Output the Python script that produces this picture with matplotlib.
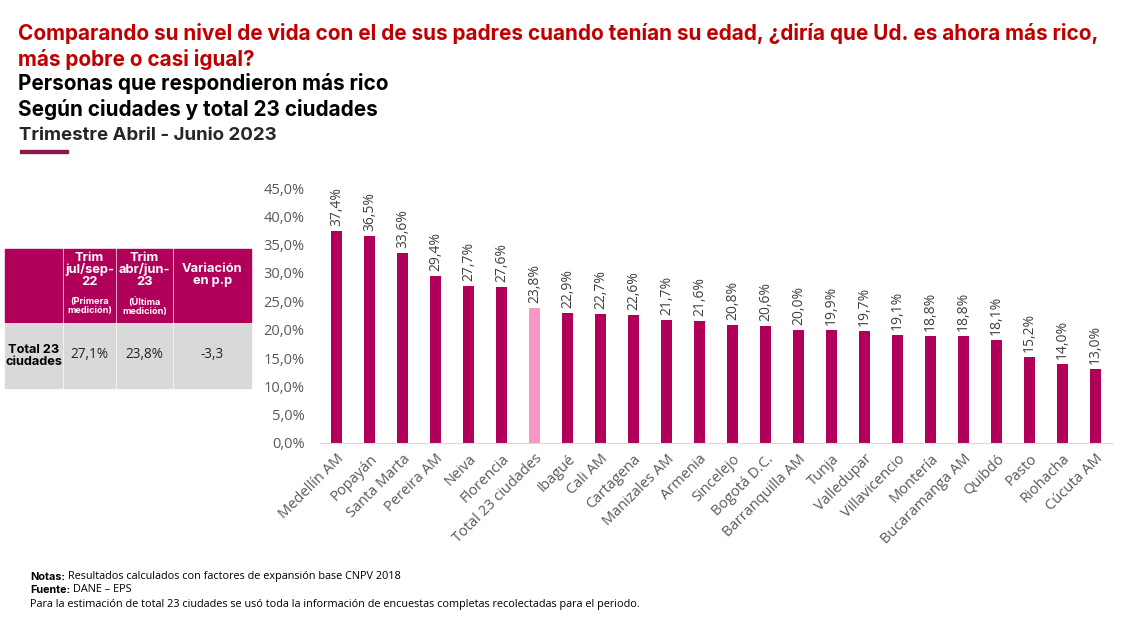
import matplotlib
matplotlib.use("Agg")
import matplotlib.pyplot as plt
from matplotlib.patches import Rectangle
from matplotlib.ticker import FuncFormatter

plt.rcParams['font.family'] = ['Open Sans', 'DejaVu Sans']

ciudades = ['Medellín AM', 'Popayán', 'Santa Marta', 'Pereira AM', 'Neiva', 'Florencia',
            'Total 23 ciudades', 'Ibagué', 'Cali AM', 'Cartagena', 'Manizales AM', 'Armenia',
            'Sincelejo', 'Bogotá D.C.', 'Barranquilla AM', 'Tunja', 'Valledupar',
            'Villavicencio', 'Montería', 'Bucaramanga AM', 'Quibdó', 'Pasto', 'Riohacha',
            'Cúcuta AM']
valores = [37.4, 36.5, 33.6, 29.4, 27.7, 27.6, 23.8, 22.9, 22.7, 22.6, 21.7, 21.6,
           20.8, 20.6, 20.0, 19.9, 19.7, 19.1, 18.8, 18.8, 18.1, 15.2, 14.0, 13.0]
yticks = [0, 5, 10, 15, 20, 25, 30, 35, 40, 45]

tabla_cols = ['', 'Trim\njul/sep-\n22', 'Trim\nabr/jun-\n23', 'Variación\nen p.p']
tabla_sub = ['', '(Primera\nmedición)', '(Última\nmedición)', '']
tabla_fila = ['Total 23\nciudades', '27,1%', '23,8%', '-3,3']

fmt = lambda v: f'{v:.1f}%'.replace('.', ',')

magenta = '#B0005A'
rosa = '#F799C4'
negrita = ['Inter', 'DejaVu Sans']

W, H = 1121, 621
fig = plt.figure(figsize=(W / 100, H / 100), dpi=100)
rend = fig.canvas.get_renderer()


def ajustar(t, ancho):
    # scale the font so the text spans the given pixel width
    w = t.get_window_extent(rend).width
    t.set_fontsize(t.get_fontsize() * ancho / w)
    return t.get_fontsize()


# titles
t1 = fig.text(18 / W, 1 - 40 / H, 'Comparando su nivel de vida con el de sus padres cuando tenían su edad, ¿diría que Ud. es ahora más rico,',
              color='#C00000', fontsize=13.5, fontweight='bold', family=negrita, va='baseline')
fs = ajustar(t1, 1083)
fig.text(18 / W, 1 - 66 / H, 'más pobre o casi igual?', color='#C00000', fontsize=fs,
         fontweight='bold', family=negrita, va='baseline')
fig.text(18 / W, 1 - 90 / H, 'Personas que respondieron más rico', color='black', fontsize=fs,
         fontweight='bold', family=negrita, va='baseline')
fig.text(18 / W, 1 - 116 / H, 'Según ciudades y total 23 ciudades', color='black', fontsize=fs,
         fontweight='bold', family=negrita, va='baseline')
t5 = fig.text(19 / W, 1 - 140 / H, 'Trimestre Abril - Junio 2023', color='#262626', fontsize=12,
              fontweight='bold', family=negrita, va='baseline')
ajustar(t5, 258)
fig.patches.append(Rectangle((20 / W, 1 - 153 / H), 48 / W, 3 / H, color='#8B1A4A',
                             transform=fig.transFigure, figure=fig))

# chart
ax = fig.add_axes([320 / W, 1 - 443 / H, 792 / W, 255 / H])
colores = [rosa if c.startswith('Total') else magenta for c in ciudades]
x = range(len(ciudades))
ax.bar(x, valores, width=0.34, color=colores)
for i, v in zip(x, valores):
    ax.text(i, v + 0.9, fmt(v), rotation=90, ha='center', va='bottom', fontsize=10,
            color='#404040', clip_on=False)
ax.set_xlim(-0.5, len(ciudades) - 0.5)
ax.set_ylim(0, 45)
ax.set_yticks(yticks)
ax.yaxis.set_major_formatter(FuncFormatter(lambda v, p: fmt(v)))
ax.set_xticks(list(x))
ax.set_xticklabels(ciudades, rotation=45, ha='right', rotation_mode='anchor', fontsize=10.5,
                   color='#595959')
ax.tick_params(axis='y', length=0, labelsize=10.5, labelcolor='#595959', pad=11)
ax.tick_params(axis='x', length=0, pad=6)
for s in ['top', 'right', 'left']:
    ax.spines[s].set_visible(False)
ax.spines['bottom'].set_color('#D9D9D9')

# table
bordes = [5, 64, 117, 174, 253]
top, mid, bot = 249, 322, 388
for j in range(4):
    x0, x1 = bordes[j], bordes[j + 1]
    fig.patches.append(Rectangle((x0 / W, 1 - mid / H), (x1 - x0 - 2) / W, (mid - top) / H,
                                 color=magenta, transform=fig.transFigure, figure=fig))
    fig.patches.append(Rectangle((x0 / W, 1 - bot / H), (x1 - x0 - 2) / W, (bot - mid - 2) / H,
                                 color='#D9D9D9', transform=fig.transFigure, figure=fig))
    cx = (x0 + x1 - 2) / 2 / W
    if tabla_cols[j]:
        if tabla_sub[j]:
            fig.text(cx, 1 - 252 / H, tabla_cols[j], ha='center', va='top', color='white',
                     fontsize=9.3, fontweight='bold', family=negrita, linespacing=0.95)
            fig.text(cx, 1 - 297 / H, tabla_sub[j], ha='center', va='top', color='white',
                     fontsize=6.6, fontweight='bold', family=negrita, linespacing=1.0)
        else:
            fig.text(cx, 1 - 263 / H, tabla_cols[j], ha='center', va='top', color='white',
                     fontsize=9.3, fontweight='bold', family=negrita, linespacing=0.95)
    if j == 0:
        fig.text(cx, 1 - 356 / H, tabla_fila[j], ha='center', va='center', color='black',
                 fontsize=9.2, fontweight='bold', family=negrita, linespacing=1.05)
    else:
        fig.text(cx, 1 - 355 / H, tabla_fila[j], ha='center', va='center', color='#262626',
                 fontsize=9.8)

# notes
nota = fig.text(30 / W, 1 - 604 / H, 'Para la estimación de total 23 ciudades se usó toda la información de encuestas completas recolectadas para el periodo.',
                fontsize=7, va='center')
fn = ajustar(nota, 616)
b1 = fig.text(30 / W, 1 - 577 / H, 'Notas:', fontsize=fn, va='center', fontweight='bold', family=negrita)
fig.text((30 + b1.get_window_extent(rend).width + 3) / W, 1 - 577 / H,
         'Resultados calculados con factores de expansión base CNPV 2018', fontsize=fn, va='center')
b2 = fig.text(30 / W, 1 - 590 / H, 'Fuente:', fontsize=fn, va='center', fontweight='bold', family=negrita)
fig.text((30 + b2.get_window_extent(rend).width + 3) / W, 1 - 590 / H, 'DANE – EPS',
         fontsize=fn, va='center')

fig.savefig('out.png', dpi=100)
